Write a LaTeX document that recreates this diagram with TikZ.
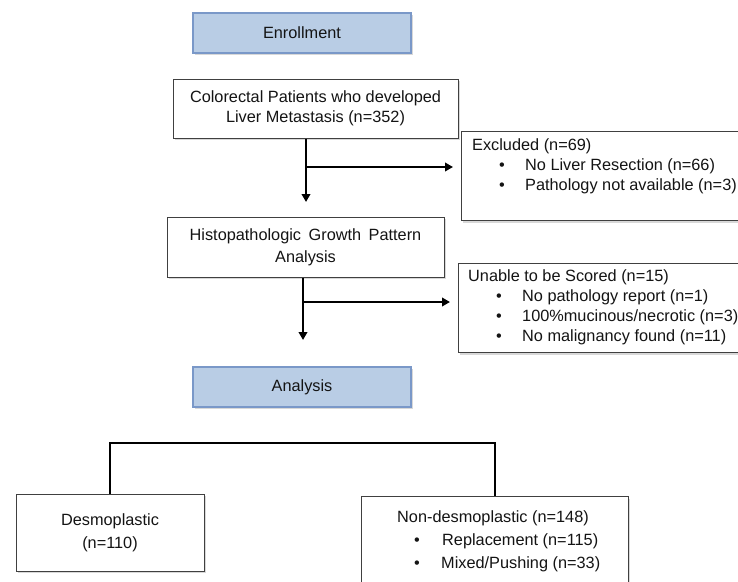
\documentclass[tikz,border=0pt]{standalone}
\usepackage{fontspec}
\setmainfont{Liberation Sans}
\usetikzlibrary{arrows.meta,shadows,calc}
\definecolor{bluefill}{RGB}{185,205,229}
\definecolor{blueline}{RGB}{122,152,200}
\definecolor{boxline}{RGB}{64,64,64}
\definecolor{txtc}{RGB}{20,20,20}
\begin{document}
\begin{tikzpicture}[x=1pt,y=-1pt,
  every node/.style={font=\fontsize{16.3}{20}\selectfont, text=txtc},
  shadowed/.style={drop shadow={opacity=0.3,shadow xshift=1.5pt,shadow yshift=-2pt}},
  hdrbox/.style={draw=blueline, fill=bluefill, line width=1.1pt, shadowed, minimum width=218pt, minimum height=40pt, inner sep=0pt},
  wbox/.style={draw=boxline, fill=white, line width=1pt, shadowed, inner sep=0pt, align=center},
  conn/.style={line width=2.3pt, black},
  arr/.style={conn, -{Triangle[length=8pt,width=8.5pt]}},
  ltxt/.style={anchor=base west, inner sep=0pt},
]
\useasboundingbox (0,0) rectangle (738,581);
\clip (0,0) rectangle (738,581);
\fill[white] (0,0) rectangle (738,581);

% boxes
\node[hdrbox] (enr) at (302,33) {Enrollment};
\node[wbox, minimum width=285pt, minimum height=59pt] (col) at (315.5,108.5)
  {Colorectal Patients who developed\\Liver Metastasis (n=352)};

\node[wbox, anchor=north west, minimum width=300pt, minimum height=89pt] (excl) at (461,131) {};
\node[ltxt] (excl1) at (472,150) {Excluded (n=69)};
\node[ltxt] (excl2) at (499,170) {\makebox[26pt][l]{•}No Liver Resection (n=66)};
\node[ltxt] (excl3) at (499,190) {\makebox[26pt][l]{•}Pathology not available (n=3)};

\node[wbox, minimum width=277pt, minimum height=60pt] (hist) at (305.5,247)
  {Histopathologic\hspace{3pt} Growth\hspace{3pt} Pattern\\[2pt]Analysis};

\node[wbox, anchor=north west, minimum width=300pt, minimum height=89pt] (unab) at (458,263) {};
\node[ltxt] (unab1) at (468,281) {Unable to be Scored (n=15)};
\node[ltxt] (unab2) at (496,301) {\makebox[26pt][l]{•}No pathology report (n=1)};
\node[ltxt] (unab3) at (496,321) {\makebox[26pt][l]{•}100\%mucinous/necrotic (n=3)};
\node[ltxt] (unab4) at (496,341) {\makebox[26pt][l]{•}No malignancy found (n=11)};

\node[hdrbox] (ana) at (302,387) {Analysis};

\node[wbox, minimum width=188pt, minimum height=77pt] (des) at (110,532.5)
  {Desmoplastic\\[3pt](n=110)};

\node[wbox, anchor=north west, minimum width=267pt, minimum height=110pt] (nond) at (361,496) {};
\node[ltxt] (nond1) at (397,522) {Non-desmoplastic (n=148)};
\node[ltxt] (nond2) at (414,545) {\makebox[28pt][l]{•}Replacement (n=115)};
\node[ltxt] (nond3) at (414,568) {\makebox[27pt][l]{•}Mixed/Pushing (n=33)};

% connectors
\coordinate (c1) at (306,202);
\coordinate (b1) at (306,167);
\draw[arr] (col.south -| c1) -- (c1);
\draw[arr, shorten >=8pt] (b1) -- (b1 -| excl.west);

\coordinate (c2) at (303,340);
\coordinate (b2) at (303,302);
\draw[arr] (hist.south -| c2) -- (c2);
\draw[arr, shorten >=8pt] (b2) -- (b2 -| unab.west);

\coordinate (brk) at (300,443);
\draw[conn] (des.north) |- (brk) -| (nond.north);
\end{tikzpicture}
\end{document}
